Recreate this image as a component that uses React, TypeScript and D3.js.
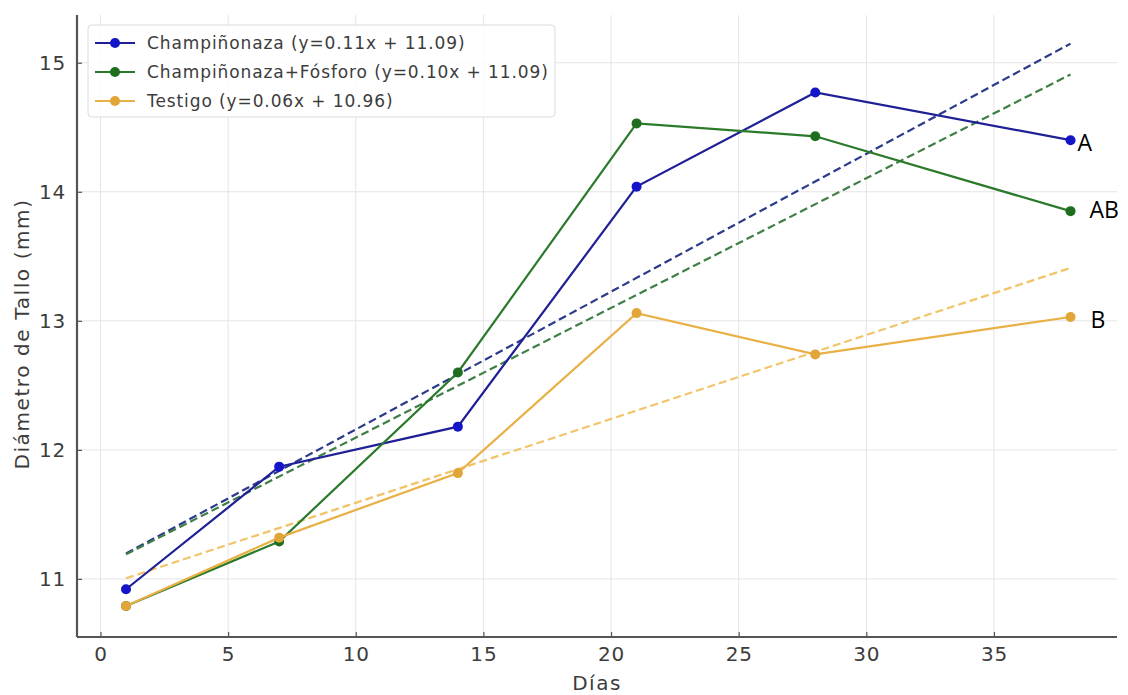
import React, { useEffect, useRef } from 'react';
import * as d3 from 'd3';

// datos
const dias = [1, 7, 14, 21, 28, 38];
const champinonaza = [10.92, 11.87, 12.18, 14.04, 14.77, 14.40];
const champinonazaFosforo = [10.79, 11.29, 12.60, 14.53, 14.43, 13.85];
const testigo = [10.79, 11.32, 11.82, 13.06, 12.74, 13.03];

const nombres = [
  'Champiñonaza (y=0.11x + 11.09)',
  'Champiñonaza+Fósforo (y=0.10x + 11.09)',
  'Testigo (y=0.06x + 10.96)',
];
// recta de tendencia: pendiente e intercepto
const pendientes = [0.1068, 0.1005, 0.065];
const interceptos = [11.09, 11.09, 10.94];
const letras = ['A', 'AB', 'B'];

const xTicks = [0, 5, 10, 15, 20, 25, 30, 35];
const yTicks = [11, 12, 13, 14, 15];

const colLinea = ['#1f1f96', '#2a7a2a', '#e8b045'];
const colPunto = ['#1414c8', '#1f6e1f', '#e2a537'];
const colTend = ['#2c3a8a', '#3f7f45', '#f2c468'];

const App = () => {
  const ref = useRef<SVGSVGElement>(null);

  useEffect(() => {
    const svg = d3.select(ref.current);
    svg.selectAll('*').remove();

    const left = 77, right = 1117, top = 15, bottom = 637;
    const x = d3.scaleLinear().domain([-0.92, 39.82]).range([left, right]);
    const y = d3.scaleLinear().domain([10.55, 15.37]).range([bottom, top]);
    const font = 'DejaVu Sans, sans-serif';
    const txt = '#3c3c3c';

    // rejilla
    const g = svg.append('g');
    g.selectAll('.gx').data(xTicks).enter().append('line')
      .attr('x1', d => x(d)).attr('x2', d => x(d))
      .attr('y1', top).attr('y2', bottom)
      .attr('stroke', '#e4e4e4').attr('stroke-width', 1);
    g.selectAll('.gy').data(yTicks).enter().append('line')
      .attr('x1', left).attr('x2', right)
      .attr('y1', d => y(d)).attr('y2', d => y(d))
      .attr('stroke', '#e4e4e4').attr('stroke-width', 1);

    // ejes
    const ax = svg.append('g').attr('transform', `translate(0,${bottom})`)
      .call(d3.axisBottom(x).tickValues(xTicks).tickSize(-5).tickPadding(10).tickFormat(d3.format('d')));
    const ay = svg.append('g').attr('transform', `translate(${left},0)`)
      .call(d3.axisLeft(y).tickValues(yTicks).tickSize(-5).tickPadding(11).tickFormat(d3.format('d')));
    [ax, ay].forEach(a => {
      a.select('.domain').attr('stroke', '#555').attr('stroke-width', 2.2);
      a.selectAll('.tick line').attr('stroke', '#555').attr('stroke-width', 1.2);
      a.selectAll('.tick text').attr('font-family', font).attr('font-size', 20)
        .attr('letter-spacing', 0.8).attr('fill', txt);
    });
    ax.select('.domain').attr('d', `M${left},0H${right}`);
    ay.select('.domain').attr('d', `M0,${top}V${bottom}`);

    svg.append('text').attr('x', (left + right) / 2).attr('y', 690)
      .attr('text-anchor', 'middle').attr('font-family', font).attr('font-size', 20)
      .attr('letter-spacing', 1.5).attr('fill', txt).text('Días');
    svg.append('text').attr('transform', `translate(29,${(top + bottom) / 2 + 8}) rotate(-90)`)
      .attr('text-anchor', 'middle').attr('font-family', font).attr('font-size', 20)
      .attr('letter-spacing', 1.6).attr('fill', txt).text('Diámetro de Tallo (mm)');

    const series = [champinonaza, champinonazaFosforo, testigo];

    // tendencias
    series.forEach((_, i) => {
      const ends = [dias[0], dias[dias.length - 1]];
      svg.append('path')
        .attr('d', d3.line<number>().x(d => x(d)).y(d => y(pendientes[i] * d + interceptos[i]))(ends))
        .attr('fill', 'none').attr('stroke', colTend[i]).attr('stroke-width', 2.2)
        .attr('stroke-dasharray', '8,4');
    });

    // series
    series.forEach((vals, i) => {
      const pts = dias.map((d, j) => [d, vals[j]] as [number, number]);
      svg.append('path')
        .attr('d', d3.line().x(d => x(d[0])).y(d => y(d[1]))(pts))
        .attr('fill', 'none').attr('stroke', colLinea[i]).attr('stroke-width', 2.2);
      svg.append('g').selectAll('circle').data(pts).enter().append('circle')
        .attr('cx', d => x(d[0])).attr('cy', d => y(d[1])).attr('r', 5)
        .attr('fill', colPunto[i]);
    });

    // letras
    const dx = [7, 19, 20];
    const dy = [11, 7, 11];
    series.forEach((vals, i) => {
      svg.append('text')
        .attr('x', x(dias[dias.length - 1]) + dx[i]).attr('y', y(vals[vals.length - 1]) + dy[i])
        .attr('font-family', 'Open Sans, Liberation Sans, sans-serif').attr('font-size', 23)
        .attr('fill', '#000').text(letras[i]);
    });

    // leyenda
    const lg = svg.append('g').attr('transform', 'translate(88,25)');
    lg.append('rect').attr('width', 467).attr('height', 92).attr('rx', 4)
      .attr('fill', 'white').attr('fill-opacity', 0.85).attr('stroke', '#dcdcdc');
    nombres.forEach((n, i) => {
      const yy = 18 + i * 29;
      lg.append('line').attr('x1', 7).attr('x2', 47).attr('y1', yy).attr('y2', yy)
        .attr('stroke', colLinea[i]).attr('stroke-width', 2.2);
      lg.append('circle').attr('cx', 27).attr('cy', yy).attr('r', 5).attr('fill', colPunto[i]);
      lg.append('text').attr('x', 59).attr('y', yy + 6)
        .attr('font-family', font).attr('font-size', 17).attr('letter-spacing', 0.9)
        .attr('fill', txt).text(n);
    });
  }, []);

  return <svg ref={ref} width={1128} height={695} style={{ position: 'absolute', left: 0, top: 0, background: 'white' }} />;
};

export default App;
